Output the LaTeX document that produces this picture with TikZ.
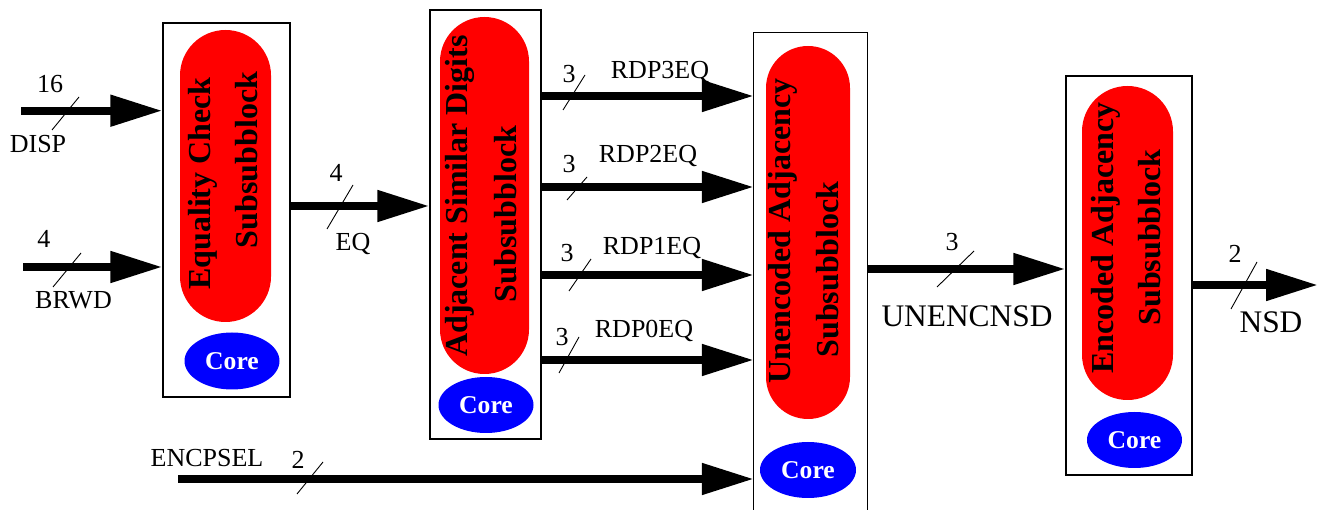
\documentclass[tikz,border=0pt]{standalone}
\usepackage{fontspec}
\setmainfont{Liberation Serif}
\usetikzlibrary{arrows.meta,shapes.geometric}
\begin{document}
\begin{tikzpicture}[x=1pt,y=-1pt,
  blockbox/.style={draw, line width=1.3pt, inner sep=0pt},
  pill/.style={fill=red, draw=none, inner sep=0pt},
  core/.style={ellipse, fill=blue, draw=none, text=white, inner sep=0pt,
    minimum width=95pt, minimum height=56pt,
    font=\fontsize{25.6}{30}\selectfont\bfseries},
  bus/.style={line width=8pt, -{Triangle[length=52pt,width=30pt]}},
  slash/.style={line width=0.9pt},
  lbl/.style={font=\fontsize{26}{30}\selectfont, inner sep=0pt, anchor=base},
  biglbl/.style={font=\fontsize{31.4}{36}\selectfont, inner sep=0pt, anchor=base},
  vtext/.style={rotate=90, anchor=base, inner sep=0pt,
    font=\fontsize{32}{38}\selectfont\bfseries}
]
\useasboundingbox (0,0) rectangle (1318,510);

% ---- blocks
\node[blockbox, minimum width=127pt, minimum height=374pt] (b1) at (226.5,210) {};
\node[blockbox, minimum width=111pt, minimum height=429pt] (b2) at (485.5,224.5) {};
\node[draw=none, inner sep=0pt, minimum width=113pt, minimum height=477pt] (b3) at (810.5,271.5) {};
\draw[line width=1.3pt] (b3.south west) -- (b3.north west) -- (b3.north east) -- (b3.south east);
\node[blockbox, minimum width=126pt, minimum height=399pt] (b4) at (1129,275.5) {};

% ---- red pills
\node[pill, rounded corners=45.5pt, minimum width=91pt, minimum height=292pt] (p1) at (225.5,176) {};
\node[pill, rounded corners=44.5pt, minimum width=89pt, minimum height=357pt] (p2) at (484.5,195.5) {};
\node[pill, rounded corners=42pt, minimum width=84pt, minimum height=373pt] (p3) at (808,232.5) {};
\node[pill, rounded corners=45.5pt, minimum width=91pt, minimum height=314pt] (p4) at (1127.5,243) {};

% ---- pill texts
\node[vtext] (t1a) at (210,183.5) {Equality Check};
\node[vtext] (t1b) at (257,160) {Subsubblock};
\node[vtext] (t2a) at (467,196) {Adjacent Similar Digits};
\node[vtext] (t2b) at (516,214) {Subsubblock};
\node[vtext] (t3a) at (790,231) {Unencoded Adjacency};
\node[vtext] (t3b) at (838,269.5) {Subsubblock};
\node[vtext] (t4a) at (1113,238) {Encoded Adjacency};
\node[vtext] (t4b) at (1160,237.5) {Subsubblock};

% ---- cores
\node[core, minimum height=57pt] (c1) at (232,361) {Core};
\node[core] (c2) at (486,405) {Core};
\node[core, minimum width=96pt] (c3) at (808,470) {Core};
\node[core] (c4) at (1134.5,440) {Core};

% ---- free ends
\coordinate (dispin) at (21,110.7);
\coordinate (brwdin) at (23,267);
\coordinate (encin) at (178,479);
\coordinate (nsdout) at (1318,285);

% ---- connectors
\draw[bus] (dispin) -- (b1.west |- dispin);
\draw[bus] (brwdin) -- (b1.west |- brwdin);
\draw[bus] (b1.east |- 0,206) -- (b2.west |- 0,206);
\draw[bus] (b2.east |- 0,96) -- (b3.west |- 0,96);
\draw[bus] (b2.east |- 0,187) -- (b3.west |- 0,187);
\draw[bus] (b2.east |- 0,275) -- (b3.west |- 0,275);
\draw[bus] (b2.east |- 0,360) -- (b3.west |- 0,360);
\draw[bus] (encin) -- (b3.west |- encin);
\draw[bus] (b3.east |- 0,269) -- (b4.west |- 0,269);
\draw[bus] (b4.east |- nsdout) -- (nsdout);

% ---- bus width slashes
\draw[slash] (52,130) -- (79,97);
\draw[slash] (53,287) -- (81,253);
\draw[slash] (327,229) -- (353,185);
\draw[slash] (563,110) -- (585,75);
\draw[slash] (567,200) -- (587,177);
\draw[slash] (569,291) -- (591,259);
\draw[slash] (559,373) -- (579,337);
\draw[slash] (297,494) -- (323,462);
\draw[slash] (937,287) -- (974,251);
\draw[slash] (1231,309) -- (1257,262);

% ---- labels
\node[lbl] (n16) at (50,92.7) {16};
\node[lbl] (ldisp) at (38,153) {DISP};
\node[lbl] (n4a) at (44,248) {4};
\node[lbl] (lbrwd) at (73.5,309) {BRWD};
\node[lbl] (n4b) at (336,182) {4};
\node[lbl] (leq) at (353,251) {EQ};
\node[lbl] (l3) at (660,79) {RDP3EQ};
\node[lbl] (n3a) at (569,83) {3};
\node[lbl] (l2) at (648,163) {RDP2EQ};
\node[lbl] (n3b) at (569,173) {3};
\node[lbl] (l1) at (652,255) {RDP1EQ};
\node[lbl] (n3c) at (567,262) {3};
\node[lbl] (l0) at (644,338) {RDP0EQ};
\node[lbl] (n3d) at (562,346) {3};
\node[lbl] (lenc) at (207,467) {ENCPSEL};
\node[lbl] (n2a) at (298,468) {2};
\node[biglbl] (lunenc) at (967,327) {UNENCNSD};
\node[lbl] (n3e) at (952,251) {3};
\node[lbl] (n2b) at (1235,263) {2};
\node[biglbl] (lnsd) at (1271,333) {NSD};
\end{tikzpicture}
\end{document}
